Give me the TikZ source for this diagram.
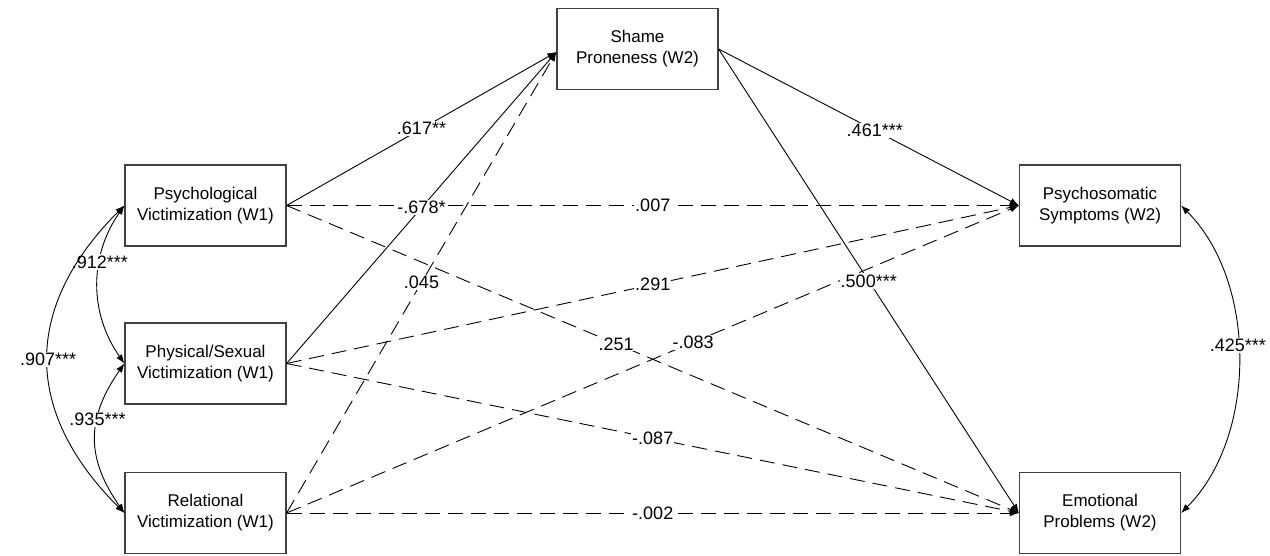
\documentclass[tikz,border=0pt]{standalone}
\usepackage{fontspec}
\setmainfont{Liberation Sans}
\usetikzlibrary{arrows.meta}
\begin{document}
\begin{tikzpicture}[x=0.5pt,y=-0.5pt,
  box/.style={draw=black!75,line width=0.6pt,fill=white,minimum width=80.5pt,minimum height=40.5pt,align=center,font=\fontsize{8.5}{10.5}\selectfont,inner sep=1pt},
  path/.style={line width=0.45pt,-{Latex[length=4.5pt,width=3.4pt]}},
  dpath/.style={path,dash pattern=on 7.5pt off 4pt},
  cov/.style={line width=0.45pt,{Latex[length=4.5pt,width=3.4pt]}-{Latex[length=4.5pt,width=3.4pt]}},
  lbl/.style={fill=white,inner sep=0.6pt,font=\fontsize{9}{10}\selectfont}]
\useasboundingbox[fill=white] (0,0) rectangle (1270,556);
\node[box] (psy) at (205.5,205.5) {Psychological\\Victimization (W1)};
\node[box] (phy) at (205.5,363.5) {Physical/Sexual\\Victimization (W1)};
\node[box] (rel) at (205.5,513) {Relational\\Victimization (W1)};
\node[box] (sha) at (637.5,49) {Shame\\Proneness (W2)};
\node[box] (som) at (1100,205.5) {Psychosomatic\\Symptoms (W2)};
\node[box] (emo) at (1100,513) {Emotional\\Problems (W2)};
\coordinate (shin) at ([yshift=-1.5pt]sha.west);
% paths
\draw[path] (psy.east) -- node[lbl,pos=0.5] {.617**} (shin);
\draw[dpath] (psy.east) -- node[lbl,pos=0.5] {.007} (som.west);
\draw[dpath] (psy.east) -- node[lbl,pos=0.45] {.251} (emo.west);
\draw[path] (phy.east) -- node[lbl,pos=0.5] {-.678*} (shin);
\draw[dpath] (phy.east) -- node[lbl,pos=0.5] {.291} (som.west);
\draw[dpath] (phy.east) -- node[lbl,pos=0.5] {-.087} (emo.west);
\draw[dpath] (rel.east) -- node[lbl,pos=0.5] {.045} (shin);
\draw[dpath] (rel.east) -- node[lbl,pos=0.555] {-.083} (som.west);
\draw[dpath] (rel.east) -- node[lbl,pos=0.5] {-.002} (emo.west);
\draw[path] (sha.east) -- node[lbl,pos=0.52] {.461***} (som.west);
\draw[path] (sha.east) -- node[lbl,pos=0.5] {.500***} (emo.west);
% covariances
\draw[cov] (psy.west) to[out=235,in=125,looseness=1.0] node[lbl,pos=0.36] {.912***} (phy.west);
\draw[cov] (phy.west) to[out=235,in=125,looseness=1.15] node[lbl,pos=0.37] {.935***} (rel.west);
\draw[cov] (psy.west) to[out=225,in=135,looseness=1.2] node[lbl,pos=0.5] {.907***} (rel.west);
\draw[cov] (som.east) to[out=-45,in=45,looseness=0.9] node[lbl,pos=0.46] {.425***} (emo.east);
\end{tikzpicture}
\end{document}
